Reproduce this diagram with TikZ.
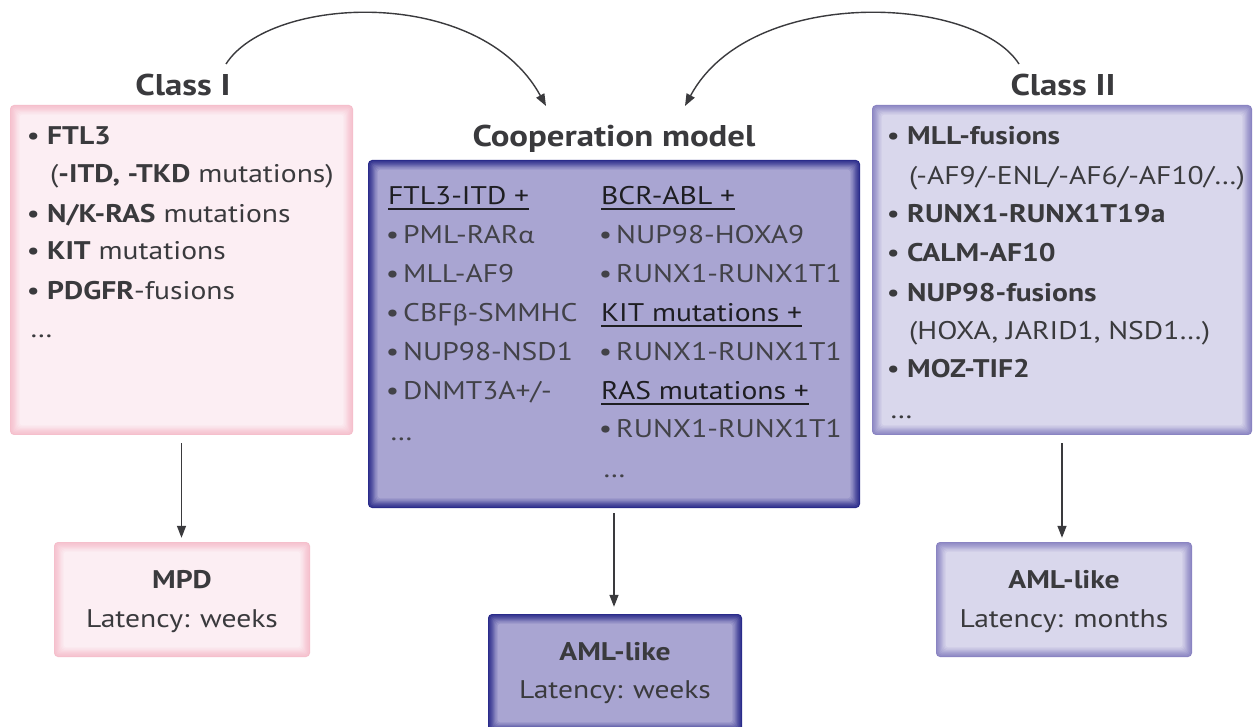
\documentclass[tikz,border=0pt]{standalone}
\usepackage{fontspec}
\setmainfont{PT Sans}[FakeStretch=1.16]
\newfontfamily\grk{Carlito}[FakeStretch=1.1]
\usetikzlibrary{arrows.meta}
\definecolor{txt}{HTML}{3A3A3D}
\definecolor{txtc}{HTML}{424248}
\definecolor{hdrc}{HTML}{1E1E22}
\definecolor{pinkfill}{HTML}{FCEEF3}
\definecolor{pinkedge}{HTML}{F5BFCC}
\definecolor{lavfill}{HTML}{D9D7EC}
\definecolor{lavedge}{HTML}{8A84C2}
\definecolor{coopfill}{HTML}{A9A5D2}
\definecolor{coopedge}{HTML}{2A2B8A}
\newcommand\bul{\makebox[17pt][l]{\hspace{-3.5pt}•}}
\newcommand\bulc{\makebox[13pt][l]{\hspace{-4.4pt}•}}
\newcommand\hdr[1]{\setbox0\hbox{#1}\rlap{\rule[-4.6pt]{\wd0}{1.4pt}}\box0}
\tikzset{
  glow/.style 2 args={inner sep=0pt, draw=none, fill=#1, rounded corners=4pt,
    path picture={
      \foreach \k in {1,...,8}{
        \pgfmathtruncatemacro\mix{\k*12.5}
        \fill[#2!\mix!#1, rounded corners=3pt]
          ([shift={(\k*1.2pt,\k*1.2pt)}]path picture bounding box.south west)
          rectangle ([shift={(-\k*1.2pt,-\k*1.2pt)}]path picture bounding box.north east);
      }}},
  ln/.style={anchor=base west, inner sep=0pt, text=txt, font=\fontsize{25.5}{30}\selectfont},
  lnc/.style={ln, text=txtc},
  lnh/.style={ln, text=hdrc},
  ctr/.style={anchor=base, inner sep=0pt, text=txt, font=\fontsize{25.5}{30}\selectfont},
  ttl/.style={anchor=base, inner sep=0pt, text=txt, font=\fontsize{30}{34}\selectfont\bfseries},
  conn/.style={draw=txt, line width=1.4pt, -{Triangle[length=12pt,width=9pt]}}
}
\begin{document}
\begin{tikzpicture}[x=1pt,y=-1pt]
\useasboundingbox (0,0) rectangle (1254,727);
\fill[white] (0,0) rectangle (1254,727);

% boxes
\node[glow={pinkedge}{pinkfill}, minimum width=343pt, minimum height=330pt] (c1) at (181.5,270) {};
\node[glow={lavedge}{lavfill}, minimum width=380pt, minimum height=330pt] (c2) at (1062,270) {};
\node[glow={coopedge}{coopfill}, minimum width=492pt, minimum height=348pt] (co) at (614,334) {};
\node[glow={pinkedge}{pinkfill}, minimum width=256pt, minimum height=115pt] (mpd) at (182,599.5) {};
\node[glow={lavedge}{lavfill}, minimum width=256pt, minimum height=115pt] (amlm) at (1064,599.5) {};
\node[glow={coopedge}{coopfill}, minimum width=254pt, minimum height=118pt] (amlw) at (615,673) {};

% titles
\node[ttl] (t1) at (183,96) {Class I};
\node[ttl] (t2) at (1063,96) {Class II};
\node[ttl] (t0) at (614,147) {Cooperation model};

% Class I
\node[ln] (a1) at (30,145) {\bul\textbf{FTL3}};
\node[ln] (a2) at (50,183) {(\textbf{-ITD, -TKD} mutations)};
\node[ln] (a3) at (30,223) {\bul\textbf{N/K-RAS} mutations};
\node[ln] (a4) at (30,260) {\bul\textbf{KIT} mutations};
\node[ln] (a5) at (30,300) {\bul\textbf{PDGFR}-fusions};
\node[ln] (a6) at (30,338) {…};

% Class II
\node[ln] (b1) at (890,145) {\bul\textbf{MLL-fusions}};
\node[ln] (b2) at (909,185) {(-AF9/-ENL/-AF6/-AF10/…)};
\node[ln] (b3) at (890,223) {\bul\textbf{RUNX1-RUNX1T19a}};
\node[ln] (b4) at (890,262) {\bul\textbf{CALM-AF10}};
\node[ln] (b5) at (890,302) {\bul\textbf{NUP98-fusions}};
\node[ln] (b6) at (909,340) {(HOXA, JARID1, NSD1…)};
\node[ln] (b7) at (890,378) {\bul\textbf{MOZ-TIF2}};
\node[ln] (b8) at (890,418) {…};

% Cooperation left
\node[lnh] (l1) at (388,205) {\hdr{FTL3-ITD +}};
\node[lnc] (l2) at (390,244) {\bulc PML-RAR{\grk α}};
\node[lnc] (l3) at (390,283) {\bulc MLL-AF9};
\node[lnc] (l4) at (390,322) {\bulc CBF{\grk β}-SMMHC};
\node[lnc] (l5) at (390,361) {\bulc NUP98-NSD1};
\node[lnc] (l6) at (390,400) {\bulc DNMT3A+/-};
\node[lnc] (l7) at (390,440) {…};
% Cooperation right
\node[lnh] (r1) at (601,205) {\hdr{BCR-ABL +}};
\node[lnc] (r2) at (603,244) {\bulc NUP98-HOXA9};
\node[lnc] (r3) at (603,283) {\bulc RUNX1-RUNX1T1};
\node[lnh] (r4) at (601,322) {\hdr{KIT mutations +}};
\node[lnc] (r5) at (603,361) {\bulc RUNX1-RUNX1T1};
\node[lnh] (r6) at (601,400) {\hdr{RAS mutations +}};
\node[lnc] (r7) at (603,438) {\bulc RUNX1-RUNX1T1};
\node[lnc] (r8) at (603,478) {…};

% outcome texts
\node[ctr] (m1) at (182,588) {\textbf{MPD}};
\node[ctr] (m2) at (182,627) {Latency: weeks};
\node[ctr] (w1) at (615,660) {\textbf{AML-like}};
\node[ctr] (w2) at (615,698) {Latency: weeks};
\node[ctr] (n1) at (1064,588) {\textbf{AML-like}};
\node[ctr] (n2) at (1064,627) {Latency: months};

% straight arrows
\draw[conn, shorten <=8pt, shorten >=4pt] (c1.south) -- (c1.south |- mpd.north);
\draw[conn, shorten <=5pt, shorten >=7pt] (co.south) -- (co.south |- amlw.north);
\draw[conn, shorten <=8pt, shorten >=4pt] (c2.south) -- (c2.south |- amlm.north);

% curved arrows
\coordinate (L0) at (226,64);
\coordinate (L1) at (546,106);
\coordinate (R0) at (1019,64);
\coordinate (R1) at (685,106);
\draw[conn] (L0) .. controls (270,-5) and (480,-15) .. (L1);
\draw[conn] (R0) .. controls (975,-5) and (750,-15) .. (R1);
\end{tikzpicture}
\end{document}
